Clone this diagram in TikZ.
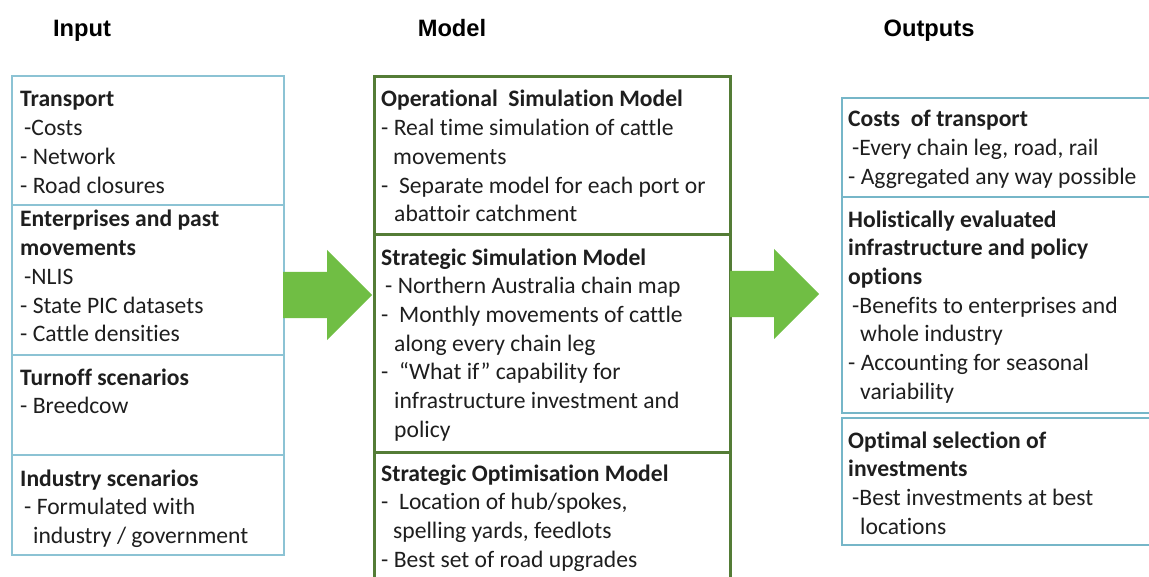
\documentclass[tikz,border=0pt]{standalone}
\usepackage{fontspec}
\setmainfont{Carlito}[Ligatures=NoCommon]
\newfontfamily\headingfont{Liberation Sans}
\usepackage{tikz}
\usetikzlibrary{shapes.arrows, positioning}
\definecolor{inputcolor}{RGB}{140,195,212}
\definecolor{modelcolor}{RGB}{84,124,54}
\definecolor{outputcolor}{RGB}{118,182,200}
\definecolor{flowcolor}{RGB}{112,190,68}
\definecolor{inktext}{RGB}{30,30,30}

\begin{document}
\begin{tikzpicture}[
    x=1pt, y=-1pt,
    panel/.style={draw=#1, line width=2pt, anchor=north west, inner sep=0pt},
    heading/.style={font=\headingfont\bfseries\fontsize{23.7}{28}\selectfont, anchor=base, inner sep=0pt},
    % entries are placed by the baseline of their last line
    entry/.style={font=\fontsize{23.6}{28.7}\selectfont, align=left, anchor=base west, inner sep=0pt, text=inktext},
    flow/.style={single arrow, fill=flowcolor, draw=none, minimum height=89pt, minimum width=90pt, single arrow head extend=22pt, inner xsep=0pt, inner ysep=23pt, anchor=west}
]
    \useasboundingbox (0,0) rectangle (1149,577);

    % Column headings
    \node[heading] (inputHead) at (82,37) {Input};
    \node[heading] (modelHead) at (452,37) {Model};
    \node[heading] (outputHead) at (929,37) {Outputs};

    % Input panels
    \node[panel=inputcolor, minimum width=272pt, minimum height=129pt] (transport) at (11,75) {};
    \node[panel=inputcolor, minimum width=272pt, minimum height=150pt] (enterprises) at (11,204) {};
    \node[panel=inputcolor, minimum width=272pt, minimum height=100pt] (turnoff) at (11,354) {};
    \node[panel=inputcolor, minimum width=272pt, minimum height=100pt] (industry) at (11,454) {};

    \node[entry] (transportText) at (20,193.1) {\textbf{Transport}\\\hspace*{4pt}-Costs\\- Network\\- Road closures};
    \node[entry] (enterprisesText) at (20,341.8) {\textbf{Enterprises and past}\\\textbf{movements}\\\hspace*{4pt}-NLIS\\- State PIC datasets\\- Cattle densities};
    \node[entry] (turnoffText) at (20,413.7) {\textbf{Turnoff scenarios}\\- Breedcow};
    \node[entry] (industryText) at (20,543.4) {\textbf{Industry scenarios}\\\hspace*{4pt}- Formulated with\\\hspace*{13pt}industry / government};

    % Model panels
    \node[panel=modelcolor, line width=3pt, minimum width=356pt, minimum height=158pt] (operational) at (373,75) {};
    \node[panel=modelcolor, line width=3pt, minimum width=356pt, minimum height=218pt] (strategic) at (373,233) {};
    \node[panel=modelcolor, line width=3pt, minimum width=356pt, minimum height=135pt] (optimisation) at (373,451) {};

    \node[entry] (operationalText) at (381,221.8) {\textbf{Operational\ \ Simulation Model}\\- Real time simulation of cattle\\\hspace*{12pt}movements\\-\ \ Separate model for each port or\\\hspace*{13pt}abattoir catchment};
    \node[entry] (strategicText) at (381,437.2) {\textbf{Strategic Simulation Model}\\\hspace*{4pt}- Northern Australia chain map\\-\ \ Monthly movements of cattle\\\hspace*{13pt}along every chain leg\\- \ “What if” capability for\\\hspace*{13pt}infrastructure investment and\\\hspace*{13pt}policy};
    \node[entry] (optimisationText) at (381,567.1) {\textbf{Strategic Optimisation Model}\\-\ \ Location of hub/spokes,\\\hspace*{12pt}spelling yards, feedlots\\- Best set of road upgrades};

    % Output panels
    \node[panel=outputcolor, minimum width=330pt, minimum height=99pt] (costs) at (841,97) {};
    \node[panel=outputcolor, minimum width=330pt, minimum height=216pt] (holistic) at (841,196) {};
    \node[panel=outputcolor, minimum width=330pt, minimum height=127pt] (selection) at (841,417) {};

    \node[entry] (costsText) at (848,184.4) {\textbf{Costs\ \ of transport}\\\hspace*{4pt}-Every chain leg, road, rail\\- Aggregated any way possible};
    \node[entry] (holisticText) at (848,399.2) {\textbf{Holistically evaluated}\\\textbf{infrastructure and policy}\\\textbf{options}\\\hspace*{4pt}-Benefits to enterprises and\\\hspace*{12pt}whole industry\\- Accounting for seasonal\\\hspace*{12pt}variability};
    \node[entry] (selectionText) at (848,534.1) {\textbf{Optimal selection of}\\\textbf{investments}\\\hspace*{4pt}-Best investments at best\\\hspace*{12pt}locations};

    % Flow arrows
    \node[flow] (toModel) at (283,295) {};
    \node[flow] (toOutputs) at (730,294) {};
\end{tikzpicture}
\end{document}
